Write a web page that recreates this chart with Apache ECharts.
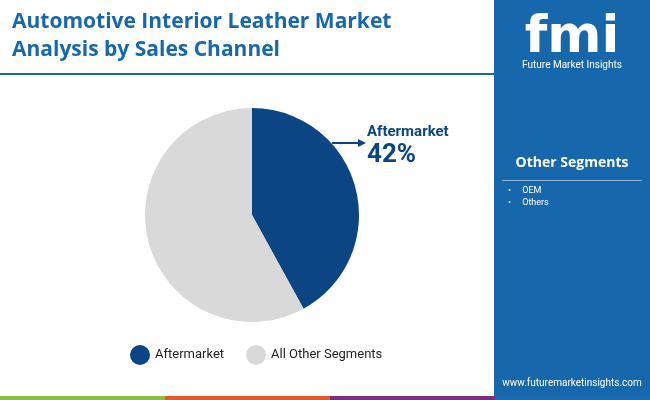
<!DOCTYPE html>
<html><head><meta charset="utf-8">
<script src="https://cdn.jsdelivr.net/npm/echarts@6/dist/echarts.min.js"></script>
<style>html,body{margin:0;padding:0;background:#fff}#c{width:650px;height:400px}</style>
</head><body><div id="c"></div>
<script>
const categories = ["Aftermarket", "All Other Segments"];
const values = [42, 58];
const otherSegments = ["OEM", "Others"];
const colors = ["#0b4584", "#d9d9d9"];

const chart = echarts.init(document.getElementById('c'));
const bottom = ["#8bbd45","#e2592a","#7b2d86","#1b6bb0"];
chart.setOption({
  animation: false,
  legend: {
    data: categories, bottom: 30, left: 125, itemGap: 22,
    icon: 'circle', itemWidth: 20, itemHeight: 20,
    textStyle: {fontFamily: 'Roboto', fontSize: 13, color: '#222'}
  },
  graphic: [
    {type:'rect', shape:{x:494,y:0,width:156,height:400}, style:{fill:'#1767ad'}},
    {type:'rect', shape:{x:0,y:73,width:494,height:2}, style:{fill:'#1767ad'}},
    {type:'text', left:12, top:8, style:{text:'Automotive Interior Leather Market\nAnalysis by Sales Channel', fill:'#1767ad', font:'bold 21px "Open Sans"', lineHeight:28}},
    {type:'text', x:572, y:12, style:{text:'fmi', fill:'#fff', font:'bold 52px "DejaVu Sans"', align:'center'}},
    {type:'text', x:572, y:60, style:{text:'Future Market Insights', fill:'#fff', font:'10px Roboto', align:'center'}},
    {type:'text', x:572, y:156, style:{text:'Other Segments', fill:'#fff', font:'bold 14px "Open Sans"', align:'center'}},
    {type:'rect', shape:{x:502,y:180,width:140,height:1}, style:{fill:'#8fb6da'}},
    ...otherSegments.map((s,i)=>({type:'text', x:508, y:186+i*12, style:{text:'•     '+s, fill:'#fff', font:'9px Roboto'}})),
    {type:'text', x:572, y:378, style:{text:'www.futuremarketinsights.com', fill:'#fff', font:'10px Roboto', align:'center'}},
    ...bottom.map((c,i)=>({type:'rect', shape:{x:i*165,y:396,width:i==3?160:165,height:4}, style:{fill:c}})),
    {type:'text', x:367, y:125, style:{text:categories[0], fill:'#0b4584', font:'bold 15px Roboto'}},
    {type:'text', x:367, y:142, style:{text:values[0]+'%', fill:'#0b4584', font:'bold 26px Roboto'}},
    {type:'line', shape:{x1:332,y1:143,x2:362,y2:143}, style:{stroke:'#0b4584', lineWidth:2}},
    {type:'polygon', shape:{points:[[366,143],[358,139],[358,147]]}, style:{fill:'#0b4584'}}
  ],
  series: [{
    type: 'pie', center: [252, 215], radius: [0, 107], startAngle: 90, clockwise: true,
    label: {show: false}, labelLine: {show: false},
    data: categories.map((n,i)=>({name:n, value:values[i], itemStyle:{color:colors[i]}}))
  }]
});
</script></body></html>
